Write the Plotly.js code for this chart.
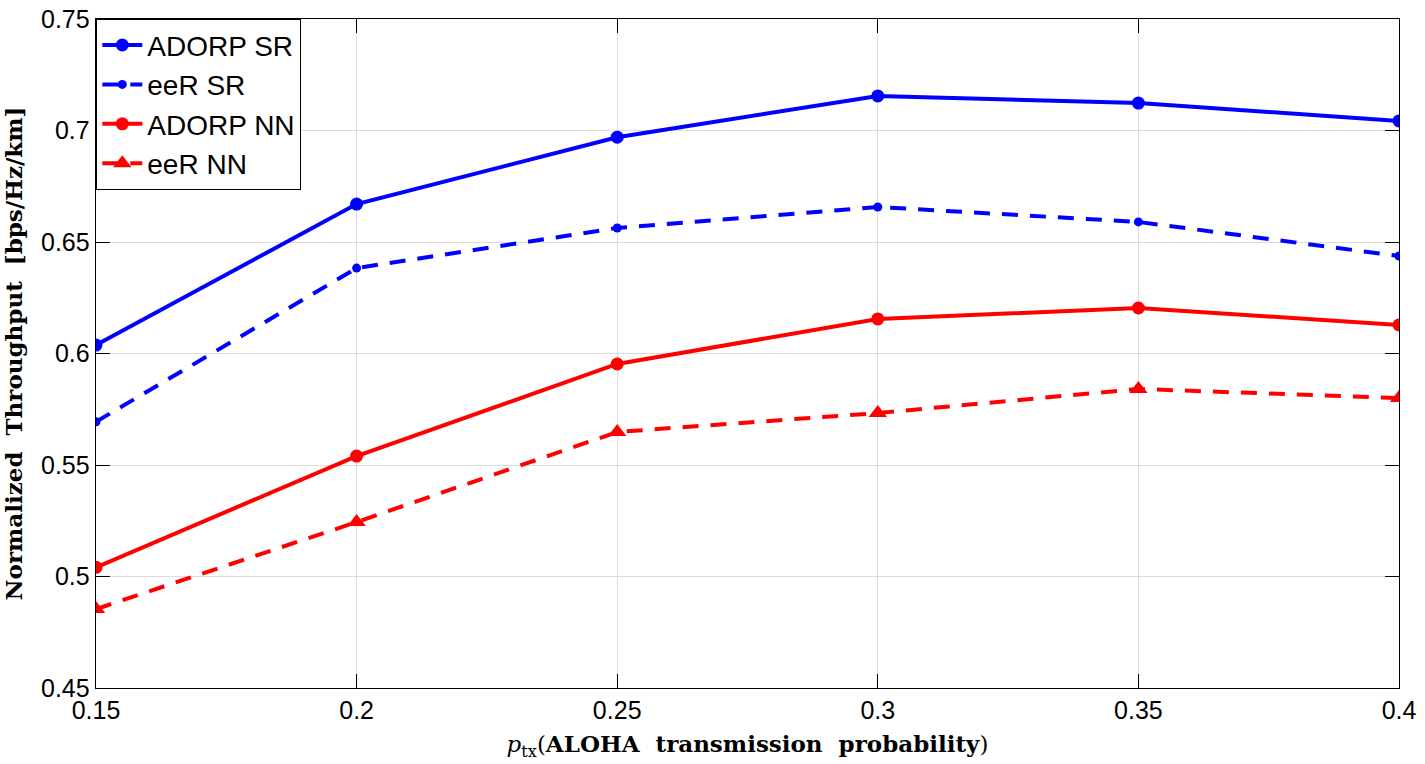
<!DOCTYPE html>
<html>
<head>
<meta charset="utf-8">
<script src="https://cdn.plot.ly/plotly-3.0.1.min.js"></script>
<style>html,body{margin:0;padding:0;background:#fff;}#chart{width:1425px;height:764px;}</style>
</head>
<body>
<div id="chart"></div>
<script>
const ptx = [0.15, 0.2, 0.25, 0.3, 0.35, 0.4];
const adorpSR = [0.6038, 0.667, 0.697, 0.7155, 0.7123, 0.7043];
const eeRSR = [0.5694, 0.6383, 0.6563, 0.6657, 0.659, 0.6437];
const adorpNN = [0.5041, 0.554, 0.5953, 0.6155, 0.6204, 0.6128];
const eeRNN = [0.4854, 0.5244, 0.5648, 0.5733, 0.5841, 0.58];
const xTicks = [0.15, 0.2, 0.25, 0.3, 0.35, 0.4];
const xTickText = ['0.15', '0.2', '0.25', '0.3', '0.35', '0.4'];
const yTicks = [0.45, 0.5, 0.55, 0.6, 0.65, 0.7, 0.75];
const yTickText = ['0.45', '0.5', '0.55', '0.6', '0.65', '0.7', '0.75'];

const blue = '#0000ff', red = '#ff0000';
const traces = [
  {x: ptx, y: adorpSR, name: 'ADORP SR', mode: 'lines+markers',
   line: {color: blue, width: 4}, marker: {symbol: 'circle', size: 13, color: blue}},
  {x: ptx, y: eeRSR, name: 'eeR SR', mode: 'lines+markers',
   line: {color: blue, width: 4, dash: '16px,12px'}, marker: {symbol: 'circle', size: 9, color: blue}},
  {x: ptx, y: adorpNN, name: 'ADORP NN', mode: 'lines+markers',
   line: {color: red, width: 4}, marker: {symbol: 'circle', size: 13, color: red}},
  {x: ptx, y: eeRNN, name: 'eeR NN', mode: 'lines+markers',
   line: {color: red, width: 4, dash: '16px,12px'}, marker: {symbol: 'triangle-up', size: 16, color: red}}
];

const axisCommon = {
  showline: true, linecolor: '#000', linewidth: 1.3, mirror: 'ticks',
  ticks: 'inside', ticklen: 14, tickwidth: 1, tickcolor: '#000',
  showgrid: true, gridcolor: '#dcdcdc', gridwidth: 1, zeroline: false,
  tickfont: {family: 'Arial, "Liberation Sans", sans-serif', size: 25, color: '#000'}
};

const layout = {
  width: 1425, height: 764,
  margin: {l: 96, r: 26, t: 19, b: 76},
  paper_bgcolor: '#fff', plot_bgcolor: '#fff',
  showlegend: true,
  xaxis: Object.assign({}, axisCommon, {
    range: [0.15, 0.4], tickmode: 'array', tickvals: xTicks, ticktext: xTickText,
    title: {text: '<i>p</i><sub>tx</sub>(<b>ALOHA  transmission  probability</b>)',
      font: {family: 'DejaVu Serif', size: 23, color: '#000'}, standoff: 12}
  }),
  yaxis: Object.assign({}, axisCommon, {
    range: [0.45, 0.75], tickmode: 'array', tickvals: yTicks, ticktext: yTickText,
    title: {text: '<b>Normalized  Throughput  [bps/Hz/km]</b>',
      font: {family: '"DejaVu Serif", serif', size: 23, color: '#000'}, standoff: 12}
  }),
  legend: {
    x: 0, y: 1, xanchor: 'left', yanchor: 'top',
    bgcolor: '#fff', bordercolor: '#000', borderwidth: 1.3,
    font: {family: 'Arial, "Liberation Sans", sans-serif', size: 28, color: '#000'},
    tracegroupgap: 0, itemwidth: 40
  }
};

Plotly.newPlot('chart', traces, layout, {displayModeBar: false, staticPlot: true});
</script>
</body>
</html>
